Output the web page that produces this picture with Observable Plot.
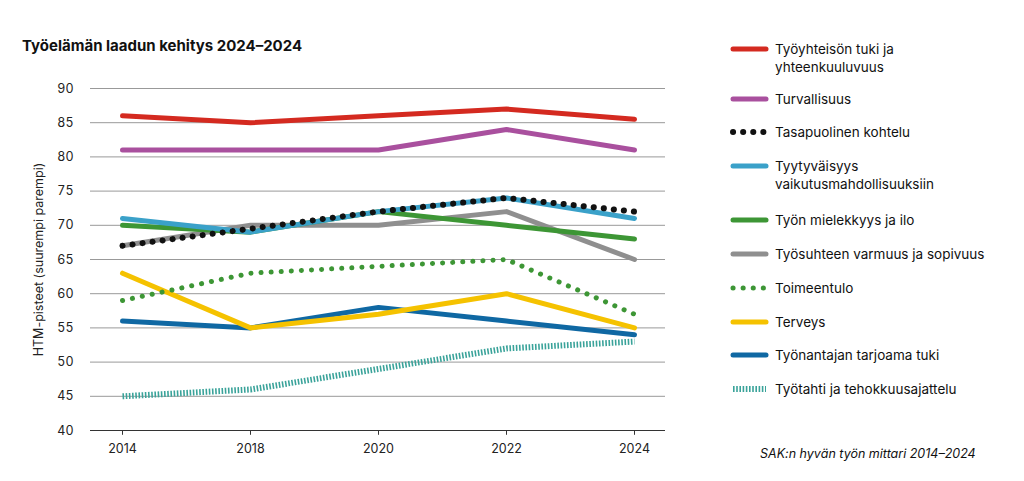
<!DOCTYPE html>
<html><head><meta charset="utf-8">
<script src="https://cdn.jsdelivr.net/npm/d3@7"></script>
<script src="https://cdn.jsdelivr.net/npm/@observablehq/plot@0.6"></script>
<style>
body{margin:0;background:#fff;font-family:Inter,"Open Sans",sans-serif;color:#111;}
#wrap{position:relative;width:1024px;height:481px;overflow:hidden}
#title{position:absolute;left:22px;top:36px;font-weight:700;font-size:15px}
#chart{position:absolute;left:0;top:0}
#legend{position:absolute;left:730px;top:0;font-size:13.5px}
.item{position:absolute;left:0;width:280px}
.sw{position:absolute;left:0;top:0}
.lt{position:absolute;left:45px;line-height:18px}
#cap{position:absolute;left:760px;top:446px;font-style:italic;font-size:12.5px}
</style></head><body>
<div id="wrap">
<div id="title">Työelämän laadun kehitys 2024–2024</div>
<div id="chart"></div>
<div id="legend"></div>
<div id="cap">SAK:n hyvän työn mittari 2014–2024</div>
</div>
<script>
const years=["2014","2018","2020","2022","2024"];
const seriesNames=["Työyhteisön tuki ja yhteenkuuluvuus","Turvallisuus","Tasapuolinen kohtelu","Tyytyväisyys vaikutusmahdollisuuksiin","Työn mielekkyys ja ilo","Työsuhteen varmuus ja sopivuus","Toimeentulo","Terveys","Työnantajan tarjoama tuki","Työtahti ja tehokkuusajattelu"];
const values=[
[86,85,86,87,85.5],
[81,81,81,84,81],
[67,69.5,72,74,72],
[71,69,72,74,71],
[70,69,72,70,68],
[67,70,70,72,65],
[59,63,64,65,57],
[63,55,57,60,55],
[56,55,58,56,54],
[45,46,49,52,53]];
const colors=["#d42a20","#a9509e","#111","#3aa1c9","#3d9635","#8f8f8f","#3d9635","#f5c200","#0f68a3","#3aa39a"];
const dashes=[null,null,"0.1,10",null,null,null,"0.1,10",null,null,"1.6,1.6"];
const widths=[5,5,6,5,5,5,5,5,5,6];
const caps=["round","round","round","round","round","round","round","round","round","butt"];
const yTicks=[40,45,50,55,60,65,70,75,80,85,90];

const data=[];
seriesNames.forEach((s,i)=>years.forEach((y,j)=>data.push({s,i,year:y,v:values[i][j]})));
const order=[9,8,7,6,5,4,3,2,1,0];
const marks=[
  Plot.ruleY(yTicks.filter(t=>t>40),{stroke:"#999",strokeWidth:1}),
  Plot.ruleY([40],{stroke:"#333",strokeWidth:1}),
  Plot.ruleX(years,{y1:40,y2:39.3,stroke:"#333"})
];
order.forEach(i=>{
  marks.push(Plot.line(data.filter(d=>d.i===i),{x:"year",y:"v",stroke:colors[i],strokeWidth:widths[i],strokeDasharray:dashes[i]||undefined,strokeLinecap:caps[i],strokeLinejoin:"round"}));
});
const p=Plot.plot({
  width:700,height:481,marginTop:88,marginBottom:51,marginLeft:90,marginRight:35,
  style:{fontFamily:"Inter,'Open Sans',sans-serif",fontSize:"12.5px",color:"#222"},
  x:{type:"point",domain:years,padding:0.23,tickSize:0,tickPadding:14,label:null},
  y:{domain:[40,90],ticks:yTicks,tickSize:0,tickPadding:17,label:"HTM-pisteet (suurempi parempi)",labelAnchor:"center",labelArrow:"none",labelOffset:56},
  marks
});
document.getElementById("chart").appendChild(p);

const tops=[40,90,123,157,211,245,279,313,346,380];
const lg=document.getElementById("legend");
seriesNames.forEach((s,i)=>{
  const it=document.createElement("div");it.className="item";it.style.top=tops[i]+"px";
  const svg=`<svg class="sw" width="40" height="18"><line x1="3" x2="36" y1="9" y2="9" stroke="${colors[i]}" stroke-width="${widths[i]}" stroke-linecap="${caps[i]}" ${dashes[i]?`stroke-dasharray="${dashes[i]}"`:""}/></svg>`;
  const label=i===0?"Työyhteisön tuki ja<br>yhteenkuuluvuus":i===3?"Tyytyväisyys<br>vaikutusmahdollisuuksiin":s;
  it.innerHTML=svg+`<div class="lt">${label}</div>`;
  lg.appendChild(it);
});
</script>
</body></html>
